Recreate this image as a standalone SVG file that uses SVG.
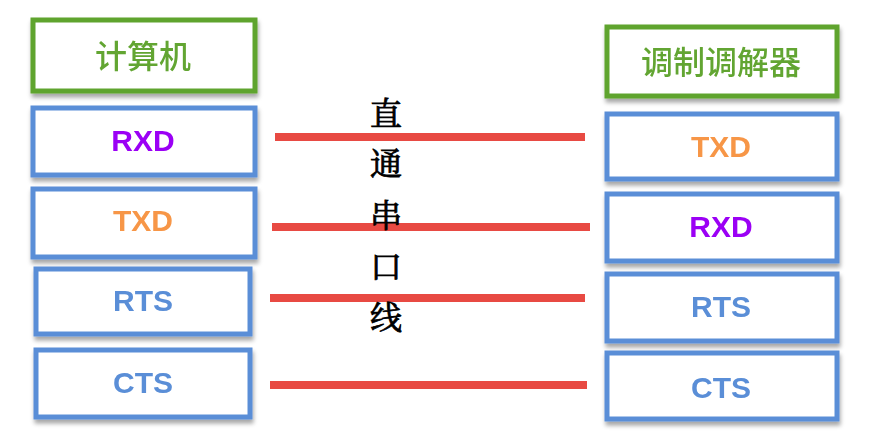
<svg xmlns="http://www.w3.org/2000/svg" width="887" height="445" viewBox="0 0 887 445">
<style>
.g{fill:#fff;stroke:#5EA42E;stroke-width:5}
.b{fill:#fff;stroke:#5A8ED7;stroke-width:5}
.t{font-family:"Liberation Sans",Arial,sans-serif;font-weight:bold;font-size:30px;text-anchor:middle;dominant-baseline:central}
.c{font-family:"Noto Sans CJK SC",sans-serif;font-weight:500;font-size:32px;text-anchor:middle;dominant-baseline:central;fill:#62A530}
.v{font-family:"Noto Serif CJK SC","Noto Sans CJK SC",serif;font-weight:normal;font-size:32px;text-anchor:middle;dominant-baseline:central;fill:#000;stroke:#000;stroke-width:0.8}
.w{stroke:#E84A43;stroke-width:8}
</style>
<defs>
<filter id="s" x="-10%" y="-10%" width="120%" height="130%">
<feDropShadow dx="1" dy="4" stdDeviation="2" flood-color="#000" flood-opacity="0.35"/>
</filter>
</defs>
<rect width="887" height="445" fill="#fff"/>
<g id="L0" filter="url(#s)"><rect class="g" x="33" y="20" width="222" height="71"/><text class="c" x="143" y="54">计算机</text></g>
<g id="L1" filter="url(#s)"><rect class="b" x="33" y="108" width="222" height="67"/><text class="t" x="143" y="140" fill="#9B00F5">RXD</text></g>
<g id="L2" filter="url(#s)"><rect class="b" x="33" y="189" width="222" height="68"/><text class="t" x="143" y="220" fill="#F79646">TXD</text></g>
<g id="L3" filter="url(#s)"><rect class="b" x="36" y="269" width="214" height="65"/><text class="t" x="143" y="300" fill="#5A8ED7">RTS</text></g>
<g id="L4" filter="url(#s)"><rect class="b" x="36" y="350" width="214" height="67"/><text class="t" x="143" y="382" fill="#5A8ED7">CTS</text></g>
<g id="R0" filter="url(#s)"><rect class="g" x="607" y="27" width="230" height="69"/><text class="c" x="721" y="60">调制调解器</text></g>
<g id="R1" filter="url(#s)"><rect class="b" x="607" y="114" width="230" height="65"/><text class="t" x="721" y="146" fill="#F79646">TXD</text></g>
<g id="R2" filter="url(#s)"><rect class="b" x="607" y="194" width="230" height="67"/><text class="t" x="721" y="226" fill="#9B00F5">RXD</text></g>
<g id="R3" filter="url(#s)"><rect class="b" x="607" y="274" width="230" height="67"/><text class="t" x="721" y="306" fill="#5A8ED7">RTS</text></g>
<g id="R4" filter="url(#s)"><rect class="b" x="607" y="353" width="230" height="66"/><text class="t" x="721" y="387" fill="#5A8ED7">CTS</text></g>
<g id="connectors">
<line class="w" x1="275" y1="137" x2="585" y2="137"/>
<line class="w" x1="272" y1="227" x2="590" y2="227"/>
<line class="w" x1="270" y1="298" x2="585" y2="298"/>
<line class="w" x1="270" y1="385" x2="587" y2="385"/>
</g>
<g id="label">
<text class="v" x="386" y="111">直</text>
<text class="v" x="386" y="161">通</text>
<text class="v" x="386" y="213">串</text>
<text class="v" x="386" y="264">口</text>
<text class="v" x="386" y="315">线</text>
</g>
</svg>
